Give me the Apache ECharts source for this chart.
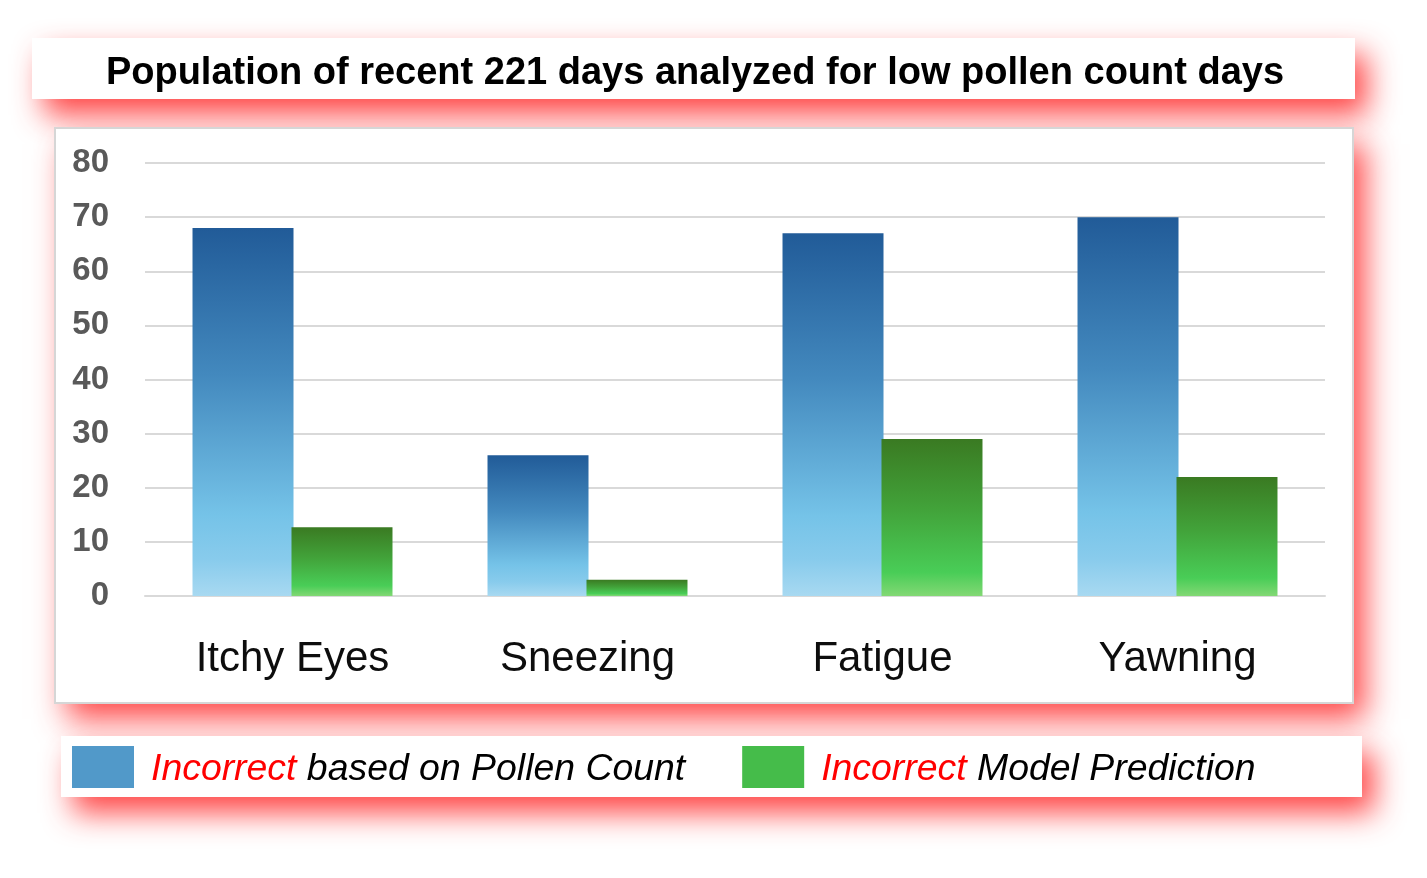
<!DOCTYPE html>
<html>
<head>
<meta charset="utf-8">
<title>Low pollen count days</title>
<script src="https://cdn.jsdelivr.net/npm/echarts@6/dist/echarts.min.js"></script>
<style>
  html, body { margin: 0; padding: 0; background: #fff; }
  #chart { width: 1427px; height: 878px; }
</style>
</head>
<body>
<div id="chart"></div>
<script>
// data
const symptoms = ['Itchy Eyes', 'Sneezing', 'Fatigue', 'Yawning'];
const pollenCountWrong = [68, 26, 67, 70];
const modelWrong = [12.7, 3, 29, 22];
const yTicks = [0, 80, 10]; // min, max, step
const seriesNames = ['Incorrect based on Pollen Count', 'Incorrect Model Prediction'];

const FONT = '"Liberation Sans", Arial, sans-serif';

const chart = echarts.init(document.getElementById('chart'));

// white boxes with the red drop shadow behind title, plot and legend
function shadowBox(x, y, w, h) {
    return {
        type: 'rect',
        z: -10,
        shape: { x: x, y: y, width: w, height: h },
        style: {
            fill: '#fff',
            shadowBlur: 30,
            shadowOffsetX: 12,
            shadowOffsetY: 16,
            shadowColor: 'rgba(255, 40, 40, 0.85)'
        }
    };
}

// border drawn on its own so the stroke gets no shadow
function border(x, y, w, h) {
    return {
        type: 'rect',
        z: -9,
        shape: { x: x, y: y, width: w, height: h },
        style: { fill: null, stroke: '#d6d6d6', lineWidth: 2 }
    };
}

const blueGrad = new echarts.graphic.LinearGradient(0, 0, 0, 1, [
    { offset: 0, color: '#215b98' },
    { offset: 0.4, color: '#4389be' },
    { offset: 0.78, color: '#75c3e8' },
    { offset: 0.9, color: '#88cbec' },
    { offset: 1, color: '#a8d9f1' }
]);
const greenGrad = new echarts.graphic.LinearGradient(0, 0, 0, 1, [
    { offset: 0, color: '#3a7a22' },
    { offset: 0.45, color: '#42a33a' },
    { offset: 0.85, color: '#49cd57' },
    { offset: 1, color: '#82d874' }
]);

const legendText = { fontFamily: FONT, fontSize: 37.4, fontStyle: 'italic', padding: [5, 0, 0, 0] };

const option = {
    animation: false,
    graphic: {
        elements: [
            shadowBox(32, 38, 1323, 61),
            shadowBox(55, 128, 1298, 575),
            border(55, 128, 1298, 575),
            shadowBox(61, 736, 1301, 61)
        ]
    },
    title: {
        text: 'Population of recent 221 days analyzed for low pollen count days',
        left: 690,
        top: 50,
        textAlign: 'center',
        textStyle: { fontFamily: FONT, fontSize: 38, fontWeight: 'bold', color: '#000' }
    },
    legend: {
        left: 72,
        top: 746,
        padding: 0,
        itemWidth: 62,
        itemHeight: 42,
        itemGap: 57,
        icon: 'rect',
        data: [
            { name: seriesNames[0], itemStyle: { color: '#5199c9' } },
            { name: seriesNames[1], itemStyle: { color: '#45bc4a' } }
        ],
        formatter: function (name) {
            return '{s|}{r|Incorrect}{k|' + name.slice(9) + '}';
        },
        textStyle: {
            fontFamily: FONT,
            fontSize: 37.4,
            fontStyle: 'italic',
            color: '#000',
            rich: {
                s: { width: 12 },
                r: Object.assign({ color: '#ff0000' }, legendText),
                k: Object.assign({ color: '#000' }, legendText)
            }
        }
    },
    grid: { left: 145, right: 102, top: 163, bottom: 282 },
    xAxis: {
        type: 'category',
        data: symptoms,
        axisTick: { show: false },
        axisLine: { lineStyle: { color: '#d9d9d9', width: 2 } },
        axisLabel: {
            margin: 42,
            fontFamily: FONT,
            fontSize: 42,
            color: '#0d0d0d'
        }
    },
    yAxis: {
        type: 'value',
        min: yTicks[0],
        max: yTicks[1],
        interval: yTicks[2],
        axisLine: { show: false },
        axisTick: { show: false },
        axisLabel: {
            margin: 36,
            fontFamily: FONT,
            fontSize: 33,
            fontWeight: 'bold',
            color: '#595959'
        },
        splitLine: { lineStyle: { color: '#d9d9d9', width: 2 } }
    },
    series: [
        {
            name: seriesNames[0],
            type: 'bar',
            barWidth: 101,
            barGap: '-2%',
            data: pollenCountWrong,
            itemStyle: { color: blueGrad }
        },
        {
            name: seriesNames[1],
            type: 'bar',
            barWidth: 101,
            data: modelWrong,
            itemStyle: { color: greenGrad }
        }
    ]
};

chart.setOption(option);
</script>
</body>
</html>
